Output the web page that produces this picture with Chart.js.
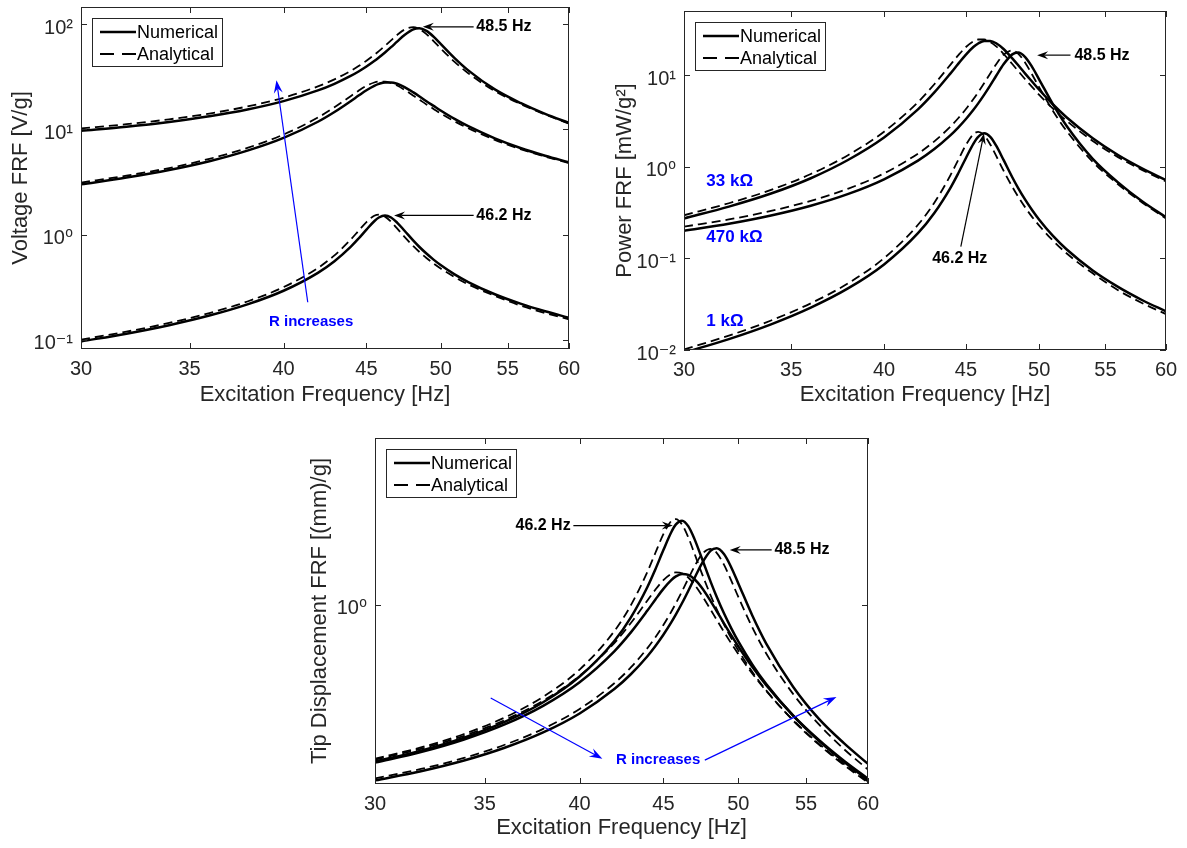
<!DOCTYPE html>
<html><head><meta charset="utf-8">
<script src="https://cdn.jsdelivr.net/npm/chart.js@4.4.0/dist/chart.umd.min.js"></script>
<style>
html,body{margin:0;padding:0;background:#fff;}
body{width:1187px;height:848px;position:relative;overflow:hidden;}
canvas.c{position:absolute;}
</style></head><body>
<canvas id="cv" class="c" width="600" height="420" style="left:0;top:0"></canvas>
<canvas id="cp" class="c" width="587" height="420" style="left:600px;top:0"></canvas>
<canvas id="cd" class="c" width="610" height="423" style="left:290px;top:425px"></canvas>
<script>
// ---------- data ----------
const freq = [30, 32, 34, 36, 38, 40, 42, 43, 44, 44.5, 45, 45.5, 45.8, 46.2, 46.6, 47, 47.5, 48.1, 48.5, 49, 49.5, 50, 51, 52, 54, 56, 58, 60];
const xTickValues = [30,31,32,33,34,35,36,37,38,39,40,41,42,43,44,45,46,47,48,49,50,51,52,53,54,55,56,57,58,59,60];

// Voltage FRF [V/g]
const voltNum1k   = [0.0968, 0.1147, 0.1381, 0.1703, 0.2174, 0.2931, 0.4337, 0.5592, 0.7648, 0.9184, 1.116, 1.340, 1.454, 1.521, 1.455, 1.302, 1.089, 0.876, 0.767, 0.661, 0.579, 0.514, 0.419, 0.3545, 0.2714, 0.2209, 0.1869, 0.1625];
const voltAna1k   = [0.1007, 0.1198, 0.1449, 0.1798, 0.2317, 0.3171, 0.4822, 0.6356, 0.8954, 1.088, 1.316, 1.509, 1.549, 1.482, 1.323, 1.145, 0.952, 0.777, 0.688, 0.600, 0.531, 0.477, 0.395, 0.337, 0.262, 0.212, 0.180, 0.157];
const voltNum33k  = [3.00, 3.48, 4.10, 4.97, 6.27, 8.29, 11.8, 14.6, 18.5, 20.9, 23.5, 25.9, 27.0, 27.9, 27.9, 27.1, 25.2, 22.4, 20.6, 18.5, 16.7, 15.1, 12.55, 10.7, 8.21, 6.65, 5.61, 4.86];
const voltAna33k  = [3.12, 3.63, 4.29, 5.24, 6.66, 8.92, 12.93, 16.18, 20.65, 23.26, 25.85, 27.82, 28.40, 28.40, 27.51, 26.05, 23.72, 20.86, 19.16, 17.23, 15.62, 14.17, 11.91, 10.23, 7.94, 6.48, 5.50, 4.78];
const voltNum470k = [9.70, 10.59, 11.75, 13.28, 15.40, 18.50, 23.39, 27.05, 32.12, 35.43, 39.48, 44.46, 48.04, 53.61, 60.23, 67.93, 78.48, 88.90, 90.91, 85.94, 75.75, 64.79, 47.43, 36.27, 23.94, 17.8, 14.0, 11.5];
const voltAna470k = [10.21, 11.18, 12.44, 14.12, 16.47, 19.94, 25.55, 29.82, 35.85, 39.85, 44.77, 50.90, 55.28, 62.07, 69.95, 78.55, 88.45, 93.28, 89.81, 80.12, 68.84, 58.69, 43.68, 34.04, 23.06, 17.4, 13.8, 11.3];

// Power FRF [mW/g^2]
const powNum1k   = [0.00937, 0.01316, 0.01907, 0.0290, 0.04726, 0.0859, 0.1881, 0.3127, 0.5849, 0.8435, 1.2455, 1.7956, 2.114, 2.3137, 2.117, 1.695, 1.186, 0.7674, 0.5883, 0.4369, 0.3352, 0.2642, 0.1756, 0.1257, 0.07366, 0.0488, 0.0349, 0.0264];
const powAna1k   = [0.01014, 0.01435, 0.0210, 0.03233, 0.05368, 0.1006, 0.2325, 0.404, 0.8017, 1.1837, 1.7319, 2.277, 2.399, 2.196, 1.750, 1.311, 0.9063, 0.6037, 0.4733, 0.360, 0.282, 0.2275, 0.156, 0.1136, 0.0686, 0.04494, 0.0324, 0.02465];
const powNum33k  = [0.2727, 0.367, 0.5094, 0.7485, 1.191, 2.083, 4.219, 6.459, 10.37, 13.24, 16.73, 20.33, 22.09, 23.59, 23.59, 22.25, 19.24, 15.20, 12.86, 10.37, 8.451, 6.909, 4.773, 3.469, 2.043, 1.340, 0.9537, 0.7157];
const powAna33k  = [0.295, 0.3993, 0.5577, 0.832, 1.344, 2.411, 5.066, 7.933, 12.92, 16.39, 20.25, 23.45, 24.44, 24.44, 22.93, 20.56, 17.05, 13.19, 11.12, 8.996, 7.393, 6.084, 4.298, 3.171, 1.910, 1.272, 0.9167, 0.6924];
const powNum470k = [0.2002, 0.2386, 0.2937, 0.3752, 0.5046, 0.7282, 1.164, 1.557, 2.195, 2.671, 3.316, 4.206, 4.910, 6.115, 7.718, 9.818, 13.10, 16.82, 17.58, 15.71, 12.21, 8.932, 4.786, 2.799, 1.219, 0.674, 0.417, 0.281];
const powAna470k = [0.2218, 0.2659, 0.3293, 0.4242, 0.5771, 0.8460, 1.389, 1.892, 2.735, 3.379, 4.265, 5.512, 6.502, 8.197, 10.41, 13.13, 16.65, 18.51, 17.16, 13.66, 10.08, 7.329, 4.060, 2.465, 1.131, 0.644, 0.405, 0.272];

// Tip displacement FRF [(mm)/g]
const dispNum1k   = [0.2209, 0.2453, 0.2781, 0.3238, 0.3916, 0.5016, 0.7068, 0.8901, 1.1896, 1.4125, 1.6976, 2.0157, 2.1735, 2.2535, 2.1376, 1.8955, 1.5686, 1.2465, 1.0829, 0.9229, 0.8000, 0.7033, 0.5629, 0.4666, 0.3440, 0.2699, 0.2205, 0.1853];
const dispAna1k   = [0.2272, 0.2532, 0.2883, 0.3379, 0.4125, 0.5364, 0.7767, 1.0002, 1.3768, 1.6542, 1.9793, 2.2445, 2.2887, 2.1696, 1.9205, 1.6487, 1.3563, 1.0925, 0.9596, 0.8287, 0.7264, 0.6449, 0.5238, 0.4389, 0.3284, 0.2601, 0.2138, 0.1805];
const dispNum33k  = [0.2187, 0.2422, 0.2734, 0.3162, 0.3783, 0.4748, 0.6397, 0.7693, 0.9470, 1.0544, 1.1675, 1.2702, 1.3165, 1.3477, 1.3361, 1.284, 1.1803, 1.0359, 0.9429, 0.8379, 0.7473, 0.6703, 0.5497, 0.4617, 0.3448, 0.2719, 0.2226, 0.1873];
const dispAna33k  = [0.2249, 0.2499, 0.2832, 0.3295, 0.3974, 0.5049, 0.6929, 0.8425, 1.0444, 1.1598, 1.2694, 1.3483, 1.3687, 1.3569, 1.3033, 1.220, 1.0981, 0.9535, 0.8667, 0.7716, 0.6909, 0.6226, 0.5154, 0.4364, 0.3298, 0.2622, 0.2160, 0.1825];
const dispNum470k = [0.1843, 0.2013, 0.2232, 0.2524, 0.2926, 0.3514, 0.4444, 0.514, 0.6102, 0.6732, 0.75, 0.8448, 0.9127, 1.0186, 1.1445, 1.2908, 1.4912, 1.6891, 1.7273, 1.6328, 1.4392, 1.2311, 0.9013, 0.6891, 0.4548, 0.3335, 0.264, 0.216];
const dispAna470k = [0.1878, 0.2057, 0.2288, 0.2598, 0.3030, 0.3669, 0.4700, 0.5488, 0.6596, 0.7332, 0.8238, 0.9365, 1.0171, 1.1421, 1.2871, 1.4453, 1.6275, 1.7164, 1.6525, 1.4742, 1.2667, 1.0799, 0.8037, 0.6263, 0.4243, 0.3160, 0.2494, 0.2045];

const legendLabels = ['Numerical', 'Analytical'];

// ---------- styling / helpers ----------
const FONT = "'Liberation Sans', Arial, Helvetica, 'DejaVu Sans', sans-serif";
Chart.defaults.font.family = FONT;
const AXC = '#262626';
const SUP = {'-':'\u207B','0':'\u2070','1':'\u00B9','2':'\u00B2','3':'\u00B3'};
function powLabel(v){ const e = Math.round(Math.log10(v)); return '10' + String(e).split('').map(c => SUP[c]).join(''); }
function logTicks(min, max){
  const t = [];
  for (let e = Math.floor(Math.log10(min)); e <= Math.ceil(Math.log10(max)); e++){
    for (let m = 1; m <= 9; m++){
      const v = m * Math.pow(10, e);
      if (v >= min * 0.999 && v <= max * 1.001) t.push({value: v, major: m === 1});
    }
  }
  return t;
}
function line(ctx, x1, y1, x2, y2){ ctx.beginPath(); ctx.moveTo(x1, y1); ctx.lineTo(x2, y2); ctx.stroke(); }
function drawArrow(ctx, x1, y1, x2, y2, color, lw, L, W){
  const a = Math.atan2(y2 - y1, x2 - x1), c = Math.cos(a), s = Math.sin(a);
  const nx = x2 - c * L * 0.65, ny = y2 - s * L * 0.65;
  const bx = x2 - c * L, by = y2 - s * L;
  const px = -s * W / 2, py = c * W / 2;
  ctx.save();
  ctx.strokeStyle = color; ctx.fillStyle = color; ctx.lineWidth = lw; ctx.setLineDash([]);
  line(ctx, x1, y1, nx, ny);
  ctx.beginPath(); ctx.moveTo(x2, y2); ctx.lineTo(bx + px, by + py); ctx.lineTo(nx, ny); ctx.lineTo(bx - px, by - py); ctx.closePath(); ctx.fill();
  ctx.restore();
}
function noPad(s){ s.paddingTop = 0; s.paddingBottom = 0; s.paddingLeft = 0; s.paddingRight = 0; }

const matlabAxes = {
  id: 'matlabAxes',
  afterDatasetsDraw(chart){
    const {ctx, chartArea: a, scales: {x, y}} = chart;
    const cfg = chart.options.plugins.matlabAxes;
    ctx.save();
    ctx.setLineDash([]);
    ctx.strokeStyle = AXC; ctx.lineWidth = 1;
    ctx.strokeRect(a.left + 0.5, a.top + 0.5, a.width - 1, a.height - 1);
    x.ticks.forEach(t => {
      const p = Math.round(x.getPixelForValue(t.value)) + 0.5, L = t.major ? 6 : 4;
      line(ctx, p, a.bottom, p, a.bottom - L); line(ctx, p, a.top, p, a.top + L);
    });
    y.ticks.forEach(t => {
      const p = Math.round(y.getPixelForValue(t.value)) + 0.5, L = t.major ? 6 : 4;
      line(ctx, a.left, p, a.left + L, p); line(ctx, a.right, p, a.right - L, p);
    });
    // annotations
    (cfg.notes || []).forEach(n => {
      if (n.type === 'arrow'){
        drawArrow(ctx, x.getPixelForValue(n.from[0]), y.getPixelForValue(n.from[1]),
                  x.getPixelForValue(n.to[0]), y.getPixelForValue(n.to[1]), n.color, n.width, n.len, n.wid);
      } else {
        ctx.fillStyle = n.color; ctx.font = n.font; ctx.textAlign = n.align; ctx.textBaseline = 'middle';
        ctx.fillText(n.text, x.getPixelForValue(n.at[0]), y.getPixelForValue(n.at[1]));
      }
    });
    // legend box
    const bx = Math.round(a.left) + 11, by = Math.round(a.top) + 11, bw = 130, bh = 48;
    ctx.fillStyle = '#fff'; ctx.fillRect(bx, by, bw, bh);
    ctx.strokeStyle = AXC; ctx.lineWidth = 1; ctx.strokeRect(bx + 0.5, by + 0.5, bw, bh);
    ctx.strokeStyle = '#000';
    ctx.lineWidth = 2.5; line(ctx, bx + 8, by + 14, bx + 44, by + 14);
    ctx.lineWidth = 1.8; ctx.setLineDash([14, 8]); line(ctx, bx + 8, by + 36, bx + 44, by + 36); ctx.setLineDash([]);
    ctx.fillStyle = '#000'; ctx.font = '18px ' + FONT; ctx.textAlign = 'left'; ctx.textBaseline = 'middle';
    ctx.fillText(legendLabels[0], bx + 45, by + 15);
    ctx.fillText(legendLabels[1], bx + 45, by + 37);
    ctx.restore();
  }
};

function makeChart(id, c){
  const datasets = c.series.map((s, k) => ({
    label: legendLabels[k % 2],
    data: freq.map((f, i) => ({x: f, y: s[i]})),
    borderColor: '#000',
    borderWidth: k % 2 ? 1.8 : 2.5,
    borderDash: k % 2 ? [9, 5] : [],
    pointRadius: 0,
    fill: false,
    cubicInterpolationMode: 'monotone',
    clip: 0
  }));
  return new Chart(document.getElementById(id), {
    type: 'line',
    data: {datasets},
    plugins: [matlabAxes],
    options: {
      responsive: false, animation: false, devicePixelRatio: 1,
      layout: {padding: {left: 0, right: c.padR, top: c.padT, bottom: 0}},
      plugins: {legend: {display: false}, tooltip: {enabled: false}, matlabAxes: {notes: c.notes}},
      scales: {
        x: {
          type: 'logarithmic', position: 'bottom', min: 30, max: 60, bounds: 'data',
          afterBuildTicks: s => { s.ticks = xTickValues.map(v => ({value: v, major: v % 5 === 0})); },
          afterFit: s => { s.height = c.xH; noPad(s); },
          grid: {display: false}, border: {display: false},
          ticks: {autoSkip: false, maxRotation: 0, minRotation: 0, padding: 0, color: AXC, font: {size: 20},
                  callback: (v, i, t) => t[i].major ? String(v) : null},
          title: {display: true, text: 'Excitation Frequency [Hz]', color: AXC, font: {size: 22}, padding: {top: 0, bottom: c.xTitlePad}}
        },
        y: {
          type: 'logarithmic', position: 'left', min: c.yMin, max: c.yMax, bounds: 'data',
          afterBuildTicks: s => { s.ticks = logTicks(c.yMin, c.yMax); },
          afterFit: s => { s.width = c.yW; noPad(s); },
          grid: {display: false}, border: {display: false},
          ticks: {autoSkip: false, padding: 0, labelOffset: 4, color: AXC, font: {size: 20},
                  callback: (v, i, t) => t[i].major ? powLabel(v) : null},
          title: {display: true, text: c.yTitle, color: AXC, font: {size: 22}, padding: {top: c.yTitlePad, bottom: 0}}
        }
      }
    }
  });
}

const BLK = '#000', BLUE = '#0000ff';
const boldSmall = 'bold 16px ' + FONT;
const boldR = 'bold 15px ' + FONT;
const boldBlue = 'bold 17px ' + FONT;

makeChart('cv', {
  series: [voltNum1k, voltAna1k, voltNum33k, voltAna33k, voltNum470k, voltAna470k],
  yMin: 0.082, yMax: 145, yTitle: 'Voltage FRF [V/g]',
  yW: 81, xH: 71, padR: 31, padT: 7, yTitlePad: 8, xTitlePad: 12,
  notes: [
    {type: 'text', text: '48.5 Hz', at: [52.6, 94], color: BLK, font: boldSmall, align: 'left'},
    {type: 'arrow', from: [52.4, 94], to: [48.75, 94], color: BLK, width: 1.2, len: 11, wid: 8},
    {type: 'text', text: '46.2 Hz', at: [52.6, 1.52], color: BLK, font: boldSmall, align: 'left'},
    {type: 'arrow', from: [52.4, 1.52], to: [46.8, 1.52], color: BLK, width: 1.2, len: 11, wid: 8},
    {type: 'arrow', from: [41.4, 0.228], to: [39.6, 29.3], color: BLUE, width: 1.2, len: 13, wid: 9},
    {type: 'text', text: 'R increases', at: [41.6, 0.147], color: BLUE, font: boldR, align: 'center'}
  ]
});

makeChart('cp', {
  series: [powNum1k, powAna1k, powNum33k, powAna33k, powNum470k, powAna470k],
  yMin: 0.01, yMax: 50, yTitle: 'Power FRF [mW/g\u00B2]',
  yW: 84, xH: 70, padR: 21, padT: 11, yTitlePad: 12, xTitlePad: 12,
  notes: [
    {type: 'text', text: '48.5 Hz', at: [52.6, 16.5], color: BLK, font: boldSmall, align: 'left'},
    {type: 'arrow', from: [52.3, 16.5], to: [49.85, 16.5], color: BLK, width: 1.2, len: 11, wid: 8},
    {type: 'text', text: '46.2 Hz', at: [44.6, 0.1], color: BLK, font: boldSmall, align: 'center'},
    {type: 'arrow', from: [44.67, 0.134], to: [46.18, 2.31], color: BLK, width: 1.2, len: 11, wid: 8},
    {type: 'text', text: '33 k\u03A9', at: [30.98, 0.686], color: BLUE, font: boldBlue, align: 'left'},
    {type: 'text', text: '470 k\u03A9', at: [30.98, 0.1696], color: BLUE, font: boldBlue, align: 'left'},
    {type: 'text', text: '1 k\u03A9', at: [30.98, 0.0204], color: BLUE, font: boldBlue, align: 'left'}
  ]
});

makeChart('cd', {
  series: [dispNum1k, dispAna1k, dispNum33k, dispAna33k, dispNum470k, dispAna470k],
  yMin: 0.178, yMax: 5, yTitle: 'Tip Displacement FRF [(mm)/g]',
  yW: 85, xH: 64, padR: 32, padT: 13, yTitlePad: 17, xTitlePad: 7,
  notes: [
    {type: 'text', text: '46.2 Hz', at: [39.5, 2.15], color: BLK, font: boldSmall, align: 'right'},
    {type: 'arrow', from: [39.65, 2.15], to: [45.6, 2.15], color: BLK, width: 1.2, len: 11, wid: 8},
    {type: 'text', text: '48.5 Hz', at: [52.6, 1.70], color: BLK, font: boldSmall, align: 'left'},
    {type: 'arrow', from: [52.4, 1.70], to: [49.4, 1.70], color: BLK, width: 1.2, len: 11, wid: 8},
    {type: 'text', text: 'R increases', at: [44.67, 0.224], color: BLUE, font: boldR, align: 'center'},
    {type: 'arrow', from: [35.3, 0.408], to: [41.3, 0.227], color: BLUE, width: 1.2, len: 13, wid: 9},
    {type: 'arrow', from: [47.7, 0.224], to: [57.4, 0.412], color: BLUE, width: 1.2, len: 13, wid: 9}
  ]
});
</script>
</body></html>
